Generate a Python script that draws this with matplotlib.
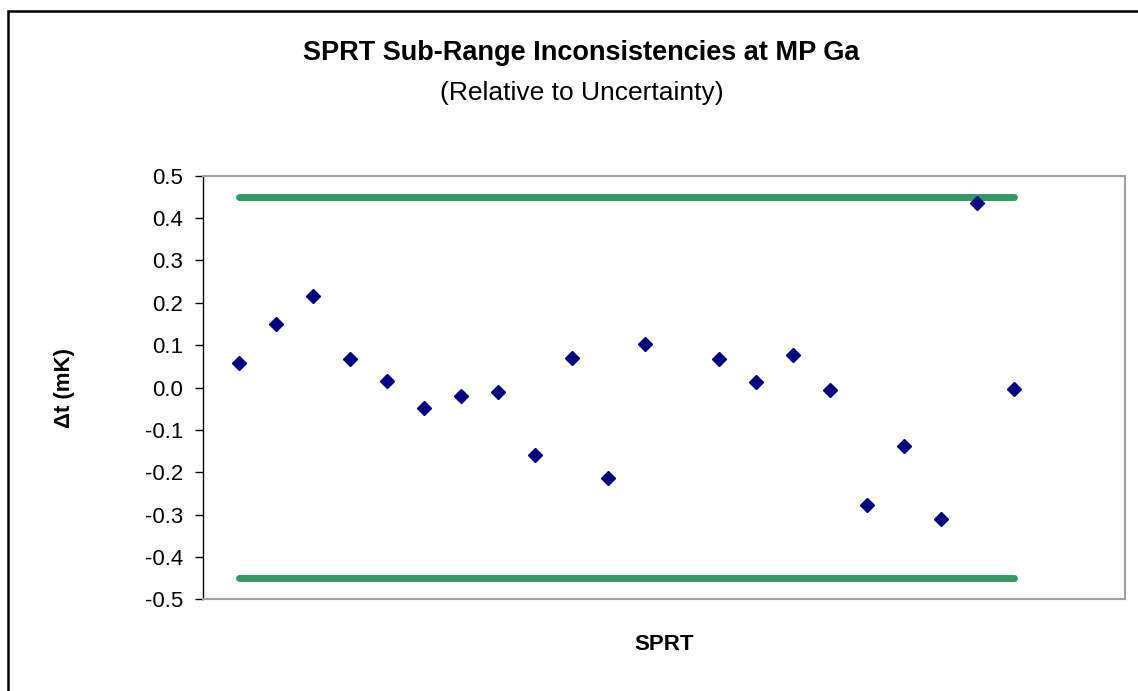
import matplotlib
matplotlib.use('Agg')
import matplotlib.pyplot as plt
from matplotlib.patches import Rectangle
from matplotlib.ticker import FuncFormatter
import numpy as np

plt.rcParams.update({'font.family': ['Liberation Sans', 'DejaVu Sans']})

# SPRT number (13 has no value) and sub-range inconsistency (mK)
sprt = [1, 2, 3, 4, 5, 6, 7, 8, 9, 10, 11, 12, 14, 15, 16, 17, 18, 19, 20, 21, 22]
delta_t = [0.057, 0.151, 0.216, 0.068, 0.015, -0.048, -0.021, -0.011, -0.159, 0.069,
           -0.214, 0.103, 0.068, 0.013, 0.076, -0.006, -0.277, -0.139, -0.311, 0.436, -0.004]

# uncertainty limits
limit_x = [1, 22]
upper_limit = [0.45, 0.45]
lower_limit = [-0.45, -0.45]
y_ticks = [-0.5, -0.4, -0.3, -0.2, -0.1, 0.0, 0.1, 0.2, 0.3, 0.4, 0.5]

fig = plt.figure(figsize=(11.38, 6.91), dpi=100)
ax = fig.add_axes([0.178, 0.1327, 0.8106, 0.613])

ax.plot(limit_x, upper_limit, color='#339966', lw=5, solid_capstyle='round')
ax.plot(limit_x, lower_limit, color='#339966', lw=5, solid_capstyle='round')
ax.plot(sprt, delta_t, ls='none', marker='D', ms=7.5, color='#000080', zorder=3)

ax.set_xlim(0, 25)
ax.set_ylim(-0.5, 0.5)
ax.set_yticks(y_ticks)
ax.yaxis.set_major_formatter(FuncFormatter(lambda v, p: f'{v + 0.0:.1f}'))
ax.set_xticks([])
ax.tick_params(axis='y', direction='out', length=6, width=1, pad=8, labelsize=16)

for side in ['top', 'right', 'bottom']:
    ax.spines[side].set_color('#a0a0a0')
    ax.spines[side].set_linewidth(1.5)
ax.spines['left'].set_color('black')
ax.spines['left'].set_linewidth(1)

ax.set_ylabel('\u0394t (mK)', fontsize=16, fontweight='bold', labelpad=50)
ax.set_xlabel('SPRT', fontsize=16, fontweight='bold', labelpad=25)

fig.text(0.511, 0.924, 'SPRT Sub-Range Inconsistencies at MP Ga', ha='center', va='center',
         fontsize=19.5, fontweight='bold')
fig.text(0.511, 0.866, '(Relative to Uncertainty)', ha='center', va='center', fontsize=19)

# chart border, cut off at the right and bottom
fig.patches.append(Rectangle((8 / 1138, -0.1), 1.2, 1.1 - 11 / 691, transform=fig.transFigure,
                             fill=False, edgecolor='black', lw=1.8))

fig.savefig('out.png', dpi=100)
